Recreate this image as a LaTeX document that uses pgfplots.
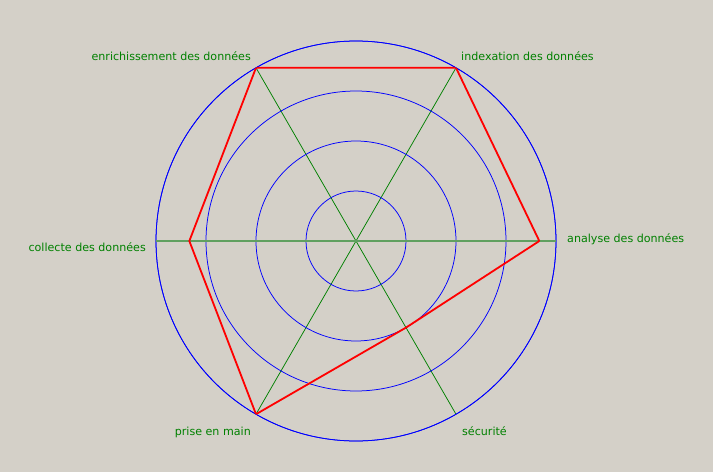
\documentclass[border=0pt]{standalone}
\usepackage{fontspec}
\setmainfont{DejaVu Sans}
\usepackage{pgfplots}
\pgfplotsset{compat=1.18}
\usepgfplotslibrary{polar}
\definecolor{bg}{RGB}{212,208,200}
\definecolor{spoke}{RGB}{0,128,0}
\definecolor{hspoke}{RGB}{96,160,96}
\definecolor{lbl}{RGB}{0,128,0}
\begin{document}
\begin{tikzpicture}[x=1pt,y=1pt]
\fill[bg] (0,0) rectangle (713,472);
\begin{polaraxis}[
  at={(356pt,231pt)}, anchor=origin,
  scale only axis, width=400pt, height=400pt,
  xmin=0, xmax=360, ymin=0, ymax=12,
  xtick={0,60,120,180,240,300},
  ytick={3,6,9,12},
  xticklabels={,,,,,}, yticklabels={,,,},
  xticklabel style={text opacity=0}, yticklabel style={text opacity=0},
  major tick length=0pt,
  grid=major,
  x grid style={spoke, line width=0.75pt},
  y grid style={blue, line width=0.75pt},
  axis line style={blue, line width=0.75pt},
]
\addplot[hspoke, line width=1.8pt] coordinates {(0,12) (0,0) (180,12)};
\addplot[red, line width=1.8pt] coordinates {
  (0,11) (60,12) (120,12) (180,10) (240,12) (300,6) (0,11)
};
\end{polaraxis}
\begin{scope}[every node/.style={inner sep=0pt, text=lbl, font=\fontsize{11.1}{13}\selectfont}]
\node[anchor=base east] at (251,411) {enrichissement des données};
\node[anchor=base west] at (461,411) {indexation des données};
\node[anchor=base west] at (567,229) {analyse des données};
\node[anchor=base east] at (146,220) {collecte des données};
\node[anchor=base east] at (251,37) {prise en main};
\node[anchor=base west] at (462,37) {sécurité};
\end{scope}
\end{tikzpicture}
\end{document}
